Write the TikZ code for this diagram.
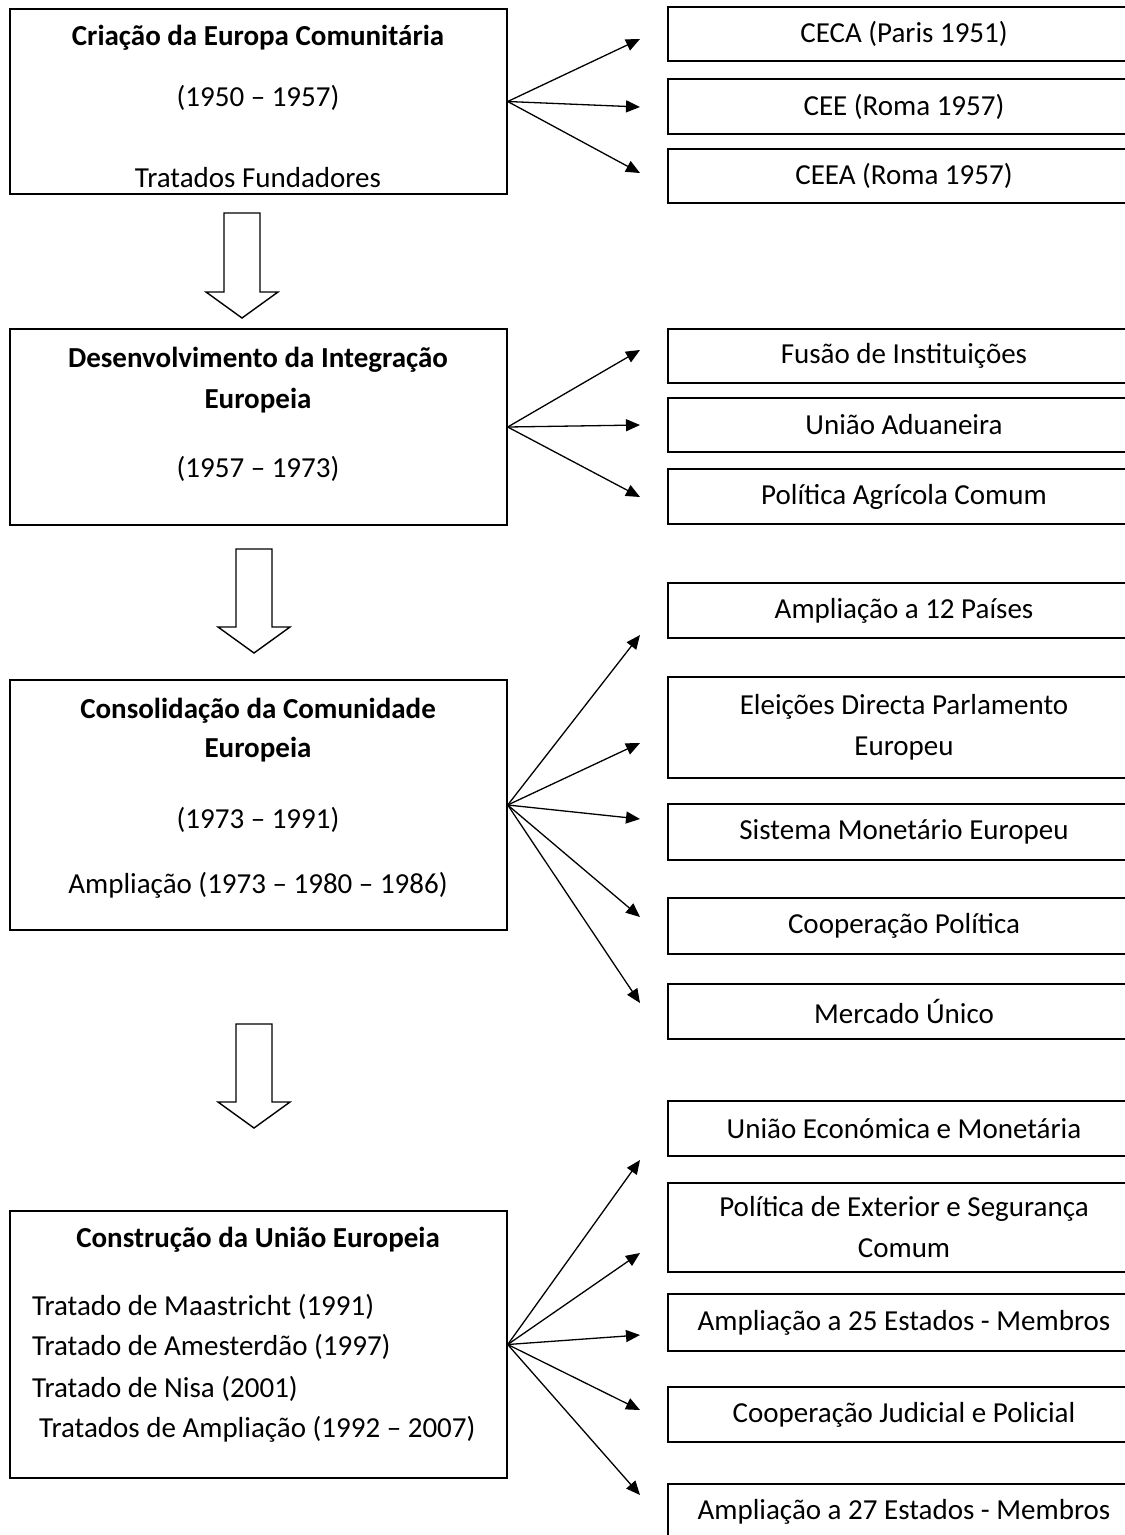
\documentclass[tikz,border=0pt]{standalone}
\usepackage{fontspec}
\setmainfont{Carlito}
\usetikzlibrary{arrows.meta}

\tikzset{
  stage/.style={draw, line width=1.4pt, inner sep=0pt, minimum width=497},
  item/.style={draw, line width=1.4pt, inner sep=0pt, align=center, minimum width=472,
    font=\fontsize{29}{41}\selectfont},
  ttl/.style={anchor=base, inner sep=0pt, font=\fontsize{29}{41}\selectfont\bfseries},
  txt/.style={anchor=base, inner sep=0pt, font=\fontsize{29}{41}\selectfont},
  conn/.style={line width=1.3pt, -{Triangle[length=14pt,width=12pt]}},
  hollow/.style={line width=1.4pt, fill=white}
}

\begin{document}
\begin{tikzpicture}[x=1pt, y=-1pt]
    \clip (0,0) rectangle (1125,1535);

    % The four stages on the left
    \node[stage, minimum height=185] (b1) at (258.5,101.5) {};
    \node[stage, minimum height=196] (b2) at (258.5,427) {};
    \node[stage, minimum height=250] (b3) at (258.5,805) {};
    \node[stage, minimum height=267] (b4) at (258.5,1344.5) {};

    \node[ttl] (b1a) at (258,45) {Criação da Europa Comunitária};
    \node[txt] (b1b) at (258,106) {(1950 – 1957)};
    \node[txt] (b1c) at (258,187) {Tratados Fundadores};

    \node[ttl] (b2a) at (258,367) {Desenvolvimento da Integração};
    \node[ttl] (b2b) at (258,408) {Europeia};
    \node[txt] (b2c) at (258,477) {(1957 – 1973)};

    \node[ttl] (b3a) at (258,718) {Consolidação da Comunidade};
    \node[ttl] (b3b) at (258,757) {Europeia};
    \node[txt] (b3c) at (258,828) {(1973 – 1991)};
    \node[txt] (b3d) at (258,893) {Ampliação (1973 – 1980 – 1986)};

    \node[ttl] (b4a) at (258,1247) {Construção da União Europeia};
    \node[txt, anchor=base west] (b4b) at (32,1315) {Tratado de Maastricht (1991)};
    \node[txt, anchor=base west] (b4c) at (32,1355) {Tratado de Amesterdão (1997)};
    \node[txt, anchor=base west] (b4d) at (32,1397) {Tratado de Nisa (2001)};
    \node[txt, anchor=base west] (b4e) at (39,1437) {Tratados de Ampliação (1992 – 2007)};

    % Block arrows between the stages
    \foreach \x/\t/\b in {242/213/292, 254/549/627, 254/1024/1102} {
        \draw[hollow] (\x-18,\t) -- (\x+18,\t) -- (\x+18,\b) -- (\x+36,\b)
            -- (\x,\b+26) -- (\x-36,\b) -- (\x-18,\b) -- cycle;
    }

    % Boxes on the right
    \foreach \n/\y/\h/\txt in {1/34/54/{CECA (Paris 1951)}, 2/106.5/55/{CEE (Roma 1957)},
                               3/176/54/{CEEA (Roma 1957)},
                               4/356/54/{Fusão de Instituições}, 5/425/54/{União Aduaneira},
                               6/496.5/55/{Política Agrícola Comum},
                               7/610.5/55/{Ampliação a 12 Países},
                               8/727.5/101/{Eleições Directa Parlamento\\Europeu},
                               9/832/56/{Sistema Monetário Europeu}, 10/926/56/{Cooperação Política},
                               11/1011.5/55/{Mercado Único},
                               12/1128.5/55/{União Económica e Monetária},
                               13/1227.5/89/{Política de Exterior e Segurança\\Comum},
                               14/1322.5/57/{Ampliação a 25 Estados - Membros},
                               15/1414.5/55/{Cooperação Judicial e Policial},
                               16/1511.5/55/{Ampliação a 27 Estados - Membros}} {
        \node[item, minimum height=\h] (r\n) at (904,\y) {\txt};
    }

    % Arrows from each stage
    \foreach \n/\y in {1/39, 2/107, 3/173} {
        \coordinate (t\n) at (640,\y);
        \draw[conn] (b1.east) -- (t\n);
    }
    \foreach \n/\y in {4/350, 5/425, 6/497} {
        \coordinate (t\n) at (640,\y);
        \draw[conn] (b2.east) -- (t\n);
    }
    \foreach \n/\y in {7/635, 8/743, 9/819, 10/917, 11/1003} {
        \coordinate (t\n) at (640,\y);
        \draw[conn] (b3.east) -- (t\n);
    }
    \foreach \n/\y in {12/1160, 13/1253, 14/1335, 15/1410, 16/1495} {
        \coordinate (t\n) at (640,\y);
        \draw[conn] (b4.east) -- (t\n);
    }
\end{tikzpicture}
\end{document}
